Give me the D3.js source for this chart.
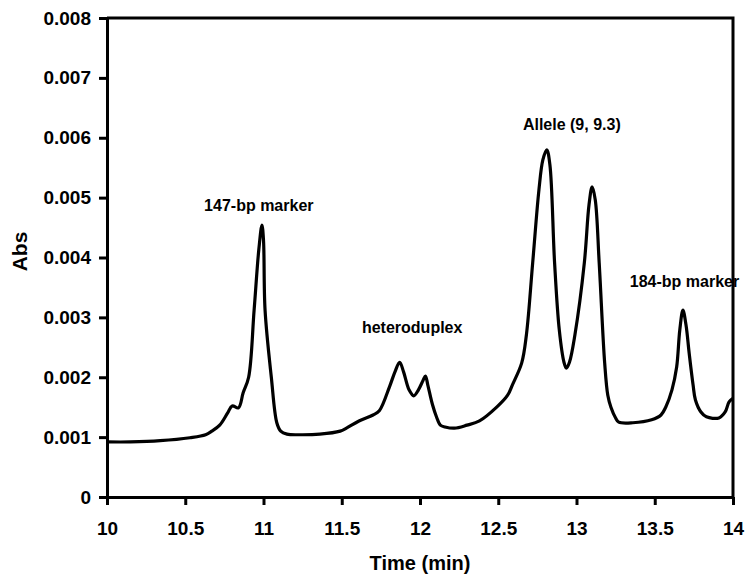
<!DOCTYPE html>
<html>
<head>
<meta charset="utf-8">
<script src="https://cdn.jsdelivr.net/npm/d3@7"></script>
<style>
    body { margin: 0; background: #fff; }
    text { font-family: "Liberation Sans", Arial, sans-serif; font-weight: bold; fill: #000; }
    .axis path, .axis line { stroke: #000; stroke-width: 3; }
</style>
</head>
<body>
<div id="chart"></div>
<script>
// electropherogram trace
const times = [10.00, 10.15, 10.34, 10.53, 10.63, 10.67, 10.72, 10.77, 10.80, 10.84,
    10.87, 10.905, 10.94, 10.97, 10.99, 11.00, 11.01, 11.05, 11.085, 11.11,
    11.15, 11.23, 11.36, 11.49, 11.53, 11.61, 11.70, 11.74, 11.805, 11.84,
    11.87, 11.895, 11.93, 11.96, 11.99, 12.02, 12.035, 12.05, 12.08, 12.105,
    12.13, 12.16, 12.22, 12.30, 12.38, 12.49, 12.56, 12.59, 12.65, 12.68,
    12.72, 12.76, 12.785, 12.81, 12.83, 12.86, 12.89, 12.92, 12.935, 12.955,
    12.99, 13.05, 13.08, 13.10, 13.12, 13.145, 13.18, 13.20, 13.22, 13.25,
    13.27, 13.36, 13.48, 13.54, 13.57, 13.61, 13.64, 13.66, 13.68, 13.70,
    13.72, 13.745, 13.76, 13.795, 13.83, 13.91, 13.95, 13.975, 14.00];

const absValues = [0.00092, 0.00092, 0.00094, 0.00099, 0.00104, 0.00110, 0.00120, 0.00140, 0.00152, 0.00149,
    0.00174, 0.00200, 0.00312, 0.00413, 0.00454, 0.00429, 0.00312, 0.00200, 0.00124, 0.00110,
    0.00105, 0.00104, 0.00105, 0.00110, 0.00115, 0.00127, 0.00137, 0.00144, 0.00184, 0.00209,
    0.00225, 0.00209, 0.00179, 0.00169, 0.00179, 0.00195, 0.00202, 0.00187, 0.00154, 0.00134,
    0.00120, 0.00117, 0.00115, 0.00120, 0.00127, 0.00150, 0.00170, 0.00187, 0.00224, 0.00271,
    0.00391, 0.00513, 0.00563, 0.00580, 0.00555, 0.00391, 0.00279, 0.00225, 0.00215, 0.00225,
    0.00271, 0.00391, 0.00488, 0.00518, 0.00496, 0.00391, 0.00224, 0.00170, 0.00150, 0.00132,
    0.00125, 0.00124, 0.00129, 0.00137, 0.00150, 0.00179, 0.00217, 0.00279, 0.00312, 0.00287,
    0.00240, 0.00187, 0.00162, 0.00142, 0.00134, 0.00132, 0.00142, 0.00159, 0.00165];

const xTicks = [10, 10.5, 11, 11.5, 12, 12.5, 13, 13.5, 14];
const yTicks = [0, 0.001, 0.002, 0.003, 0.004, 0.005, 0.006, 0.007, 0.008];

const peakLabels = ["147-bp marker", "heteroduplex", "Allele (9, 9.3)", "184-bp marker"];
const peakLabelTimes = [10.97, 11.95, 12.97, 13.69];
const peakLabelAbs = [0.00477, 0.00274, 0.00613, 0.00350];

const config = {
    width: 747,
    height: 577,
    margin: { top: 18, right: 14, bottom: 80, left: 107 }
};

const { width, height, margin } = config;

const svg = d3.select("#chart")
    .append("svg")
    .attr("width", width)
    .attr("height", height);

// Scales

const x = d3.scaleLinear()
    .domain([10, 14])
    .range([margin.left, width - margin.right]);

const y = d3.scaleLinear()
    .domain([0, 0.008])
    .range([height - margin.bottom, margin.top]);

// Frame (top and right edges)

svg.append("path")
    .attr("d", `M${x(10)},${y(0.008)}H${x(14)}V${y(0)}`)
    .attr("fill", "none")
    .attr("stroke", "#000")
    .attr("stroke-width", 3);

// Axes

const xAxis = svg.append("g")
    .attr("class", "axis x-axis")
    .attr("transform", `translate(0,${y(0)})`)
    .call(d3.axisBottom(x).tickValues(xTicks).tickSize(8).tickSizeOuter(0).tickPadding(17).tickFormat(d => d));

const yAxis = svg.append("g")
    .attr("class", "axis y-axis")
    .attr("transform", `translate(${x(10)},0)`)
    .call(d3.axisLeft(y).tickValues(yTicks).tickSize(8).tickSizeOuter(0).tickPadding(8)
        .tickFormat(d => d === 0 ? "0" : d3.format(".3f")(d)));

svg.selectAll(".axis text")
    .attr("font-size", 19)
    .style("font-family", '"Liberation Sans", Arial, sans-serif')
    .style("font-weight", "bold");

svg.append("text")
    .attr("text-anchor", "middle")
    .attr("font-size", 20)
    .attr("x", (x(10) + x(14)) / 2)
    .attr("y", 570)
    .text("Time (min)");

svg.append("text")
    .attr("text-anchor", "middle")
    .attr("font-size", 21)
    .attr("transform", `translate(27,${(y(0) + y(0.008)) / 2 - 6}) rotate(-90)`)
    .text("Abs");

// Trace

const line = d3.line()
    .x((d, i) => x(times[i]))
    .y(d => y(d))
    .curve(d3.curveCatmullRom.alpha(0.5));

svg.append("path")
    .datum(absValues)
    .attr("fill", "none")
    .attr("stroke", "#000")
    .attr("stroke-width", 3.2)
    .attr("stroke-linejoin", "round")
    .attr("d", line);

// Peak annotations

svg.selectAll("text.peak")
    .data(peakLabels)
    .join("text")
    .attr("class", "peak")
    .attr("text-anchor", "middle")
    .attr("font-size", 16)
    .attr("x", (d, i) => x(peakLabelTimes[i]))
    .attr("y", (d, i) => y(peakLabelAbs[i]))
    .text(d => d);
</script>
</body>
</html>
